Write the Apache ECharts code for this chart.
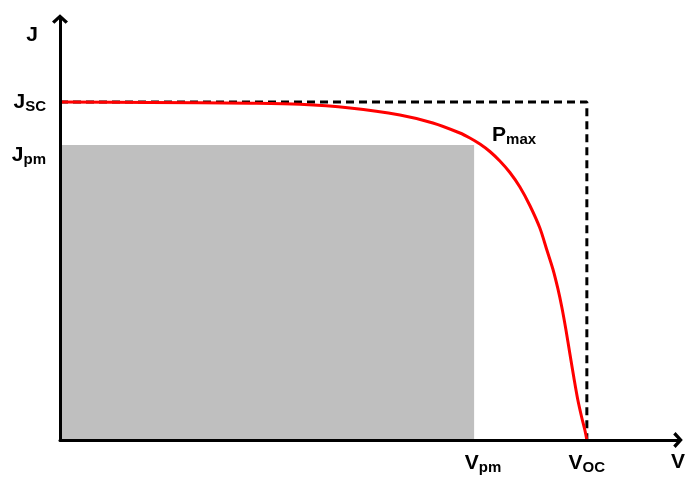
<!DOCTYPE html>
<html>
<head>
<meta charset="utf-8">
<script src="https://cdn.jsdelivr.net/npm/echarts@6/dist/echarts.min.js"></script>
<style>html,body{margin:0;padding:0;background:#fff}#c{width:686px;height:477px}</style>
</head>
<body>
<div id="c"></div>
<script>
// J-V curve (normalised: Voc = 1, Jsc = 1)
const voltage = [0, 0.1708, 0.3605, 0.4554, 0.5503, 0.6452, 0.7078, 0.759, 0.778, 0.797, 0.8159, 0.8349, 0.8539, 0.8729, 0.8918, 0.9108, 0.9241, 0.9355, 0.945, 0.9526, 0.9602, 0.9677, 0.9753, 0.9829, 0.9905, 0.9962, 1.0];
const current = [1.0, 0.9985, 0.9962, 0.9932, 0.9822, 0.9615, 0.9379, 0.9083, 0.8935, 0.8757, 0.8536, 0.8254, 0.7914, 0.7485, 0.6938, 0.6272, 0.5621, 0.5059, 0.4476, 0.392, 0.3269, 0.2559, 0.1849, 0.1183, 0.0651, 0.0296, 0];
const Jsc = 1.0, Voc = 1.0, Vpm = 0.786, Jpm = 0.873;
const xTickValues = [Vpm, Voc];
const yTickValues = [Jpm, Jsc];
const xTickLabels = ['{m|V}{s|pm}', '{m|V}{s|OC}'];
const yTickLabels = ['{m|J}{s|pm}', '{m|J}{s|SC}'];
const xName = 'V', yName = 'J', peakLabel = '{m|P}{s|max}';

const FONT = 'Liberation Sans, Arial, sans-serif';
const rich = {
  m: {fontSize: 21, fontWeight: 'bold', fontFamily: FONT, color: '#000', lineHeight: 24},
  s: {fontSize: 15, fontWeight: 'bold', fontFamily: FONT, color: '#000', lineHeight: 15, verticalAlign: 'bottom'},
  gap: {lineHeight: 20, height: 20},
  p: {width: 18}
};
const chevron = 'path://M10,0 L20,9 L17,12 L10,5.5 L3,12 L0,9 Z';
const curve = voltage.map((v, i) => [v, current[i]]);

const chart = echarts.init(document.getElementById('c'), null, {renderer: 'canvas'});
chart.setOption({
  animation: false,
  backgroundColor: '#fff',
  grid: {left: 60, right: 8, top: 19, bottom: 37, containLabel: false, outerBoundsMode: 'none'},
  xAxis: {
    type: 'value', min: 0, max: 1.173, z: 10,
    splitLine: {show: false}, axisTick: {show: false},
    axisLine: {show: true, lineStyle: {color: '#000', width: 3}, symbol: ['none', chevron], symbolSize: [16, 11]},
    axisLabel: {
      customValues: xTickValues, margin: 11,
      formatter: v => {
        const i = xTickValues.findIndex(t => Math.abs(t - v) < 1e-9);
        return i === 0 ? '{p|}' + xTickLabels[i] : xTickLabels[i];
      },
      rich: rich
    },
    name: xName, nameLocation: 'end', nameGap: -7,
    nameTextStyle: {fontSize: 21, fontWeight: 'bold', fontFamily: FONT, color: '#000', verticalAlign: 'top', align: 'left', padding: [12, 0, 0, 0]}
  },
  yAxis: {
    type: 'value', min: 0, max: 1.2456, z: 10,
    splitLine: {show: false}, axisTick: {show: false},
    axisLine: {show: true, lineStyle: {color: '#000', width: 3}, symbol: ['none', chevron], symbolSize: [16, 11]},
    axisLabel: {
      customValues: yTickValues, margin: 14,
      formatter: v => {
        const i = yTickValues.findIndex(t => Math.abs(t - v) < 1e-9);
        return i === 0 ? '{gap|}\n' + yTickLabels[i] : yTickLabels[i];
      },
      rich: rich
    },
    name: yName, nameLocation: 'end', nameGap: -27,
    nameTextStyle: {fontSize: 21, fontWeight: 'bold', fontFamily: FONT, color: '#000', padding: [0, 56, 0, 0]}
  },
  series: [
    {
      type: 'line', z: 1, showSymbol: false, silent: true,
      data: [[0, Jsc], [Voc, Jsc], [Voc, 0]],
      lineStyle: {color: '#000', width: 3, type: [8, 5]},
      markArea: {
        silent: true,
        itemStyle: {color: '#bfbfbf'},
        data: [[{coord: [0, 0]}, {coord: [Vpm, Jpm]}]]
      }
    },
    {
      type: 'line', z: 3, showSymbol: false, silent: true,
      smooth: 0.3,
      data: curve,
      lineStyle: {color: '#ff0000', width: 3},
      markPoint: {
        silent: true, symbol: 'circle', symbolSize: 0,
        data: [{coord: [Vpm, Jpm]}],
        label: {show: true, position: [18, -22], formatter: peakLabel, rich: rich}
      }
    }
  ]
});
</script>
</body>
</html>
